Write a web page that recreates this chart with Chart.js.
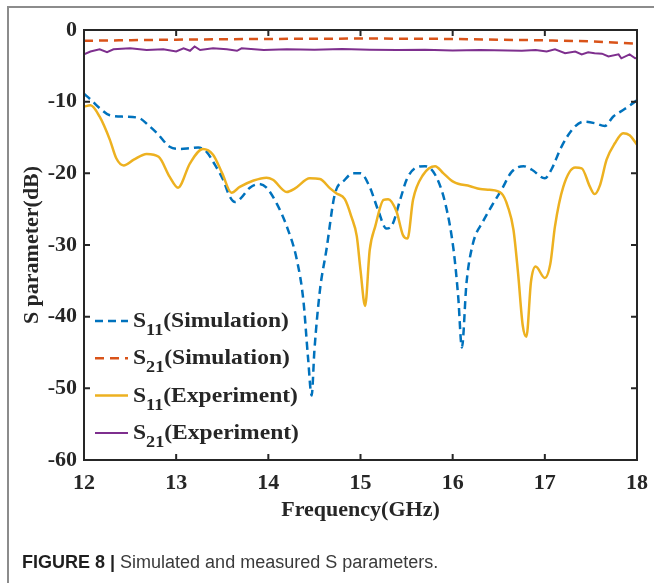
<!DOCTYPE html>
<html>
<head>
<meta charset="utf-8">
<script src="https://cdn.jsdelivr.net/npm/chart.js@4.4.1/dist/chart.umd.min.js"></script>
<style>
  body { margin: 0; background: #fff; }
  #wrap { position: relative; width: 654px; height: 583px; overflow: hidden; }
  #frame { position: absolute; left: 7px; top: 6px; width: 700px; height: 700px;
           border-left: 2px solid #8c8c8c; border-top: 2px solid #8c8c8c; }
  #chart { position: absolute; left: 0; top: 0; }
  #caption { position: absolute; left: 22px; top: 552px; white-space: nowrap;
             font: 18px "Liberation Sans", Arial, sans-serif; color: #3a3a3a; }
  #caption b { color: #1e1e1e; }
</style>
</head>
<body>
<div id="wrap">
  <div id="frame"></div>
  <canvas id="chart" width="654" height="583"></canvas>
  <div id="caption"><b>FIGURE 8 |</b> Simulated and measured S parameters.</div>
</div>
<script>
// S11 simulation
const s11SimFreq = [12.00, 12.08, 12.17, 12.28, 12.45, 12.60, 12.70, 12.80, 12.93, 13.04, 13.15, 13.24, 13.33, 13.42, 13.51, 13.58, 13.64, 13.70, 13.80, 13.90, 13.98, 14.09, 14.20, 14.31, 14.38, 14.43, 14.47, 14.50, 14.56, 14.63, 14.72, 14.83, 14.92, 15.00, 15.10, 15.19, 15.28, 15.34, 15.43, 15.50, 15.59, 15.70, 15.81, 15.92, 16.01, 16.06, 16.10, 16.15, 16.22, 16.33, 16.44, 16.53, 16.64, 16.77, 16.86, 17.00, 17.07, 17.18, 17.31, 17.42, 17.54, 17.65, 17.74, 17.87, 18.00];
const s11SimDb   = [-8.9, -9.8, -10.9, -11.9, -12.1, -12.3, -13.3, -14.5, -16.3, -16.6, -16.5, -16.4, -17.0, -18.8, -20.9, -23.2, -24.0, -23.5, -22.0, -21.5, -22.0, -24.2, -27.4, -32.1, -37.7, -45.6, -51.0, -44.7, -36.3, -30.7, -23.0, -20.9, -20.0, -20.0, -21.9, -25.1, -27.7, -27.3, -23.7, -20.9, -19.3, -19.0, -20.2, -24.2, -30.7, -37.2, -44.3, -35.3, -29.8, -26.7, -24.2, -22.3, -19.8, -19.0, -19.5, -20.7, -19.5, -16.3, -13.7, -12.8, -13.0, -13.4, -12.1, -11.0, -9.8];

// S21 simulation
const s21SimFreq = [12, 13, 14, 15, 16, 16.5, 17, 17.5, 18];
const s21SimDb   = [-1.5, -1.35, -1.25, -1.2, -1.25, -1.35, -1.45, -1.6, -1.9];

// S11 experiment
const s11ExpFreq = [12.00, 12.07, 12.17, 12.28, 12.35, 12.43, 12.54, 12.68, 12.81, 12.93, 13.02, 13.15, 13.29, 13.40, 13.50, 13.60, 13.69, 13.84, 13.98, 14.05, 14.20, 14.29, 14.45, 14.56, 14.67, 14.74, 14.83, 14.90, 14.96, 15.00, 15.05, 15.10, 15.16, 15.25, 15.30, 15.39, 15.46, 15.51, 15.57, 15.68, 15.81, 15.90, 16.01, 16.19, 16.30, 16.40, 16.53, 16.60, 16.66, 16.71, 16.76, 16.80, 16.85, 16.90, 17.00, 17.06, 17.11, 17.20, 17.33, 17.40, 17.49, 17.54, 17.60, 17.67, 17.76, 17.85, 17.92, 18.00];
const s11ExpDb   = [-10.7, -10.5, -12.1, -15.3, -17.9, -18.9, -18.1, -17.3, -17.7, -20.5, -22.0, -18.6, -16.6, -17.4, -20.0, -22.7, -21.9, -21.0, -20.6, -20.9, -22.6, -22.1, -20.7, -20.8, -22.1, -22.8, -23.6, -26.0, -28.8, -33.5, -38.5, -30.7, -27.4, -23.7, -23.6, -25.3, -28.6, -29.1, -23.7, -20.2, -19.0, -20.0, -21.2, -21.8, -22.2, -22.3, -22.8, -24.7, -27.9, -34.0, -41.2, -42.8, -35.1, -33.0, -34.6, -32.6, -27.4, -21.9, -19.2, -19.3, -21.9, -22.9, -21.6, -18.1, -15.8, -14.4, -14.7, -16.0];

// S21 experiment
const s21ExpFreq = [12.00, 12.07, 12.17, 12.25, 12.32, 12.50, 12.68, 12.86, 13.00, 13.08, 13.15, 13.20, 13.26, 13.40, 13.55, 13.66, 13.71, 13.95, 14.20, 14.50, 14.80, 15.10, 15.40, 15.70, 16.00, 16.30, 16.60, 16.75, 16.90, 17.02, 17.11, 17.22, 17.33, 17.40, 17.47, 17.54, 17.62, 17.69, 17.80, 17.83, 17.92, 17.98, 18.00];
const s21ExpDb   = [-3.4, -3.0, -2.7, -3.1, -2.7, -2.55, -2.8, -2.7, -3.0, -2.55, -2.9, -2.3, -2.8, -2.55, -2.7, -2.9, -2.55, -2.8, -2.7, -2.75, -2.65, -2.75, -2.8, -2.75, -2.85, -2.8, -2.85, -2.9, -2.8, -3.0, -2.7, -3.25, -3.0, -3.4, -3.1, -3.25, -3.3, -3.7, -3.4, -3.95, -3.4, -3.95, -3.9];

const xTicks = [12, 13, 14, 15, 16, 17, 18];
const yTicks = [0, -10, -20, -30, -40, -50, -60];

const legendSub  = ['11', '21', '11', '21'];
const legendRest = ['(Simulation)', '(Simulation)', '(Experiment)', '(Experiment)'];

const serif = "'Liberation Serif', 'Times New Roman', serif";
const axisColor = '#262626';

function pts(xs, ys) {
  return xs.map((x, i) => ({x: x, y: ys[i]}));
}

// box + inward ticks like matlab
const boxPlugin = {
  id: 'box',
  afterDatasetsDraw(chart) {
    const {ctx, chartArea: a, scales} = chart;
    ctx.save();
    ctx.strokeStyle = axisColor;
    ctx.lineWidth = 2;
    ctx.strokeRect(a.left, a.top, a.right - a.left, a.bottom - a.top);
    ctx.beginPath();
    xTicks.forEach(v => {
      const px = scales.x.getPixelForValue(v);
      ctx.moveTo(px, a.bottom); ctx.lineTo(px, a.bottom - 6);
      ctx.moveTo(px, a.top); ctx.lineTo(px, a.top + 6);
    });
    yTicks.forEach(v => {
      const py = scales.y.getPixelForValue(v);
      ctx.moveTo(a.left, py); ctx.lineTo(a.left + 6, py);
      ctx.moveTo(a.right, py); ctx.lineTo(a.right - 6, py);
    });
    ctx.stroke();
    ctx.restore();
  }
};

// legend with subscripts, text a bit wider like the scanned figure
const legendPlugin = {
  id: 'figLegend',
  afterDraw(chart) {
    const {ctx, chartArea: a} = chart;
    const x0 = a.left + 11, x1 = a.left + 44, tx = a.left + 49;
    ctx.save();
    chart.data.datasets.forEach((ds, i) => {
      const y = a.top + 291 + i * 37.3;
      ctx.strokeStyle = ds.borderColor;
      ctx.lineWidth = ds.borderWidth;
      ctx.setLineDash(ds.borderDash || []);
      ctx.beginPath();
      ctx.moveTo(x0, y); ctx.lineTo(x1, y);
      ctx.stroke();
      ctx.setLineDash([]);
      ctx.save();
      ctx.translate(tx, 0);
      ctx.scale(1.07, 1);
      ctx.fillStyle = axisColor;
      ctx.textBaseline = 'alphabetic';
      ctx.font = 'bold 22px ' + serif;
      ctx.fillText('S', 0, y + 6);
      let w = ctx.measureText('S').width;
      ctx.font = 'bold 17px ' + serif;
      ctx.fillText(legendSub[i], w, y + 14);
      w += ctx.measureText(legendSub[i]).width;
      ctx.font = 'bold 22px ' + serif;
      ctx.fillText(legendRest[i], w, y + 6);
      ctx.restore();
    });
    ctx.restore();
  }
};

const chartData = {
  datasets: [{
      label: 'S11(Simulation)',
      data: pts(s11SimFreq, s11SimDb),
      borderColor: '#0072BD',
      borderWidth: 2.5,
      borderDash: [8, 5],
      cubicInterpolationMode: 'monotone',
      order: 2
    }, {
      label: 'S21(Simulation)',
      data: pts(s21SimFreq, s21SimDb),
      borderColor: '#D95319',
      borderWidth: 2.5,
      borderDash: [9, 6],
      cubicInterpolationMode: 'monotone',
      order: 2
    }, {
      label: 'S11(Experiment)',
      data: pts(s11ExpFreq, s11ExpDb),
      borderColor: '#EDB120',
      borderWidth: 2.5,
      cubicInterpolationMode: 'monotone',
      order: 1
    }, {
      label: 'S21(Experiment)',
      data: pts(s21ExpFreq, s21ExpDb),
      borderColor: '#7E2F8E',
      borderWidth: 2,
      tension: 0,
      order: 1
    }
  ]
};

const config = {
  type: 'line',
  data: chartData,
  options: {
    responsive: false,
    animation: false,
    devicePixelRatio: 1,
    layout: { padding: { left: 0, top: 30, right: 17, bottom: 59 } },
    elements: { point: { radius: 0 } },
    scales: {
      x: {
        type: 'linear',
        min: 12,
        max: 18,
        afterFit: s => { s.height = 64; s.paddingLeft = 0; s.paddingRight = 0; },
        afterBuildTicks: s => { s.ticks = xTicks.map(v => ({value: v})); },
        grid: { display: false, drawTicks: false },
        border: { display: false },
        ticks: { padding: 10, color: axisColor, font: { family: serif, size: 22, weight: 'bold' } },
        title: { display: true, text: 'Frequency(GHz)', color: axisColor,
                 padding: { top: 0, bottom: 0 },
                 font: { family: serif, size: 22, weight: 'bold' } }
      },
      y: {
        min: -60,
        max: 0,
        afterFit: s => { s.width = 84; s.paddingTop = 0; s.paddingBottom = 0; },
        afterBuildTicks: s => { s.ticks = yTicks.map(v => ({value: v})); },
        grid: { display: false, drawTicks: false },
        border: { display: false },
        ticks: { padding: 7, color: axisColor, font: { family: serif, size: 22, weight: 'bold' } },
        title: { display: true, text: 'S parameter(dB)', color: axisColor,
                 padding: { top: 19, bottom: 0 },
                 font: { family: serif, size: 22, weight: 'bold' } }
      }
    },
    plugins: {
      legend: { display: false },
      tooltip: { enabled: false }
    }
  },
  plugins: [boxPlugin, legendPlugin]
};

const chart = new Chart(document.getElementById('chart'), config);
</script>
</body>
</html>
